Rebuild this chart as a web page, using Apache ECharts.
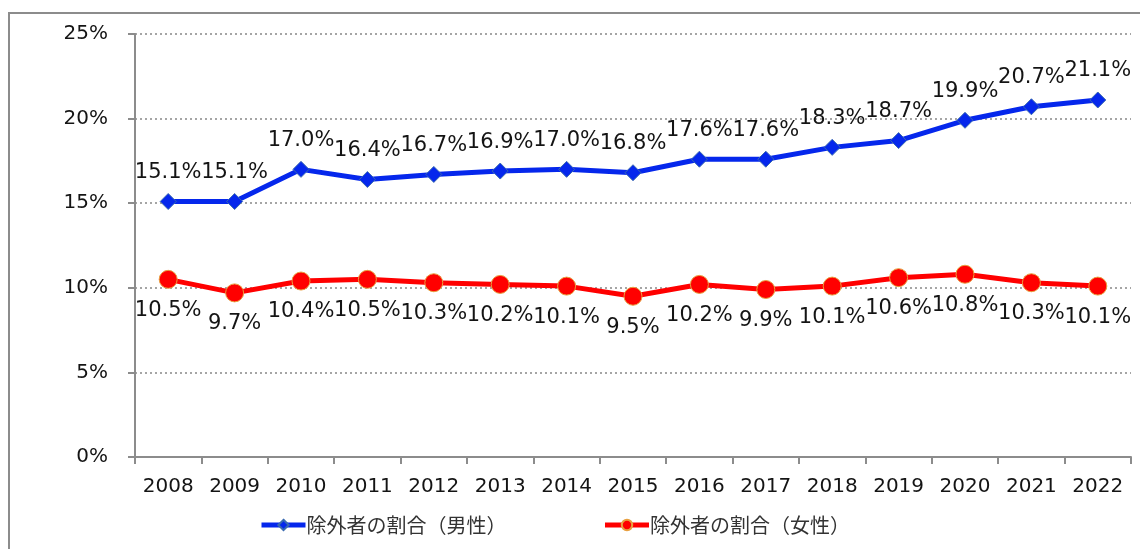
<!DOCTYPE html>
<html>
<head>
<meta charset="utf-8">
<script src="https://cdn.jsdelivr.net/npm/echarts@6/dist/echarts.min.js"></script>
<style>
  html, body { margin: 0; padding: 0; background: #fff; }
  #chart { width: 1140px; height: 549px; }
</style>
</head>
<body>
<div id="chart"></div>
<script>
const years = ['2008', '2009', '2010', '2011', '2012', '2013', '2014', '2015', '2016', '2017', '2018', '2019', '2020', '2021', '2022'];
const male = [15.1, 15.1, 17.0, 16.4, 16.7, 16.9, 17.0, 16.8, 17.6, 17.6, 18.3, 18.7, 19.9, 20.7, 21.1];
const female = [10.5, 9.7, 10.4, 10.5, 10.3, 10.2, 10.1, 9.5, 10.2, 9.9, 10.1, 10.6, 10.8, 10.3, 10.1];
const maleName = '除外者の割合（男性）';
const femaleName = '除外者の割合（女性）';

const txt = '#141414';
const font = '"DejaVu Sans", Verdana, sans-serif';

var myChart = echarts.init(document.getElementById('chart'));
const option = {
    animation: false,
    backgroundColor: '#fff',
    graphic: [{
        type: 'rect',
        shape: { x: 9, y: 13, width: 1160, height: 600 },
        style: { fill: 'none', stroke: '#8c8c8c', lineWidth: 2 },
        silent: true
    }],
    grid: { left: 135, right: 9, top: 34, bottom: 92 },
    legend: {
        bottom: 9,
        left: 254,
        itemWidth: 44,
        itemHeight: 13,
        itemGap: 96,
        lineStyle: { width: 5 },
        textStyle: { color: '#333', fontSize: 20, fontFamily: '"Noto Sans CJK JP", sans-serif', padding: [0, 0, 0, -4] },
        data: [maleName, femaleName]
    },
    xAxis: {
        type: 'category',
        data: years,
        boundaryGap: true,
        axisLine: { lineStyle: { color: '#8c8c8c', width: 2 } },
        axisTick: { show: true, length: 7, lineStyle: { color: '#8c8c8c', width: 2 } },
        axisLabel: { color: txt, fontSize: 20, fontFamily: font, margin: 20 }
    },
    yAxis: {
        type: 'value',
        min: 0,
        max: 25,
        interval: 5,
        axisLine: { show: true, lineStyle: { color: '#8c8c8c', width: 2 } },
        axisTick: { show: true, length: 7, lineStyle: { color: '#8c8c8c', width: 2 } },
        axisLabel: { color: txt, fontSize: 20, fontFamily: font, margin: 27, formatter: '{value}%' },
        splitLine: { lineStyle: { color: '#888', type: [2, 3], width: 1.5 } }
    },
    series: [
        {
            name: maleName,
            type: 'line',
            data: male,
            symbol: 'diamond',
            symbolSize: 16,
            itemStyle: { color: '#0527ec', borderColor: '#3a6ab0', borderWidth: 1 },
            lineStyle: { color: '#0527ec', width: 5 },
            label: {
                show: true,
                position: 'top',
                distance: 10,
                color: txt,
                fontSize: 21,
                fontFamily: font,
                formatter: p => p.value.toFixed(1) + '%'
            },
            z: 3
        },
        {
            name: femaleName,
            type: 'line',
            data: female,
            symbol: 'circle',
            symbolSize: 18,
            itemStyle: { color: '#ff0000', borderColor: '#e8a040', borderWidth: 1 },
            lineStyle: { color: '#ff0000', width: 5 },
            label: {
                show: true,
                position: 'bottom',
                distance: 11,
                color: txt,
                fontSize: 21,
                fontFamily: font,
                formatter: p => p.value.toFixed(1) + '%'
            },
            z: 3
        }
    ]
};
myChart.setOption(option);
</script>
</body>
</html>
